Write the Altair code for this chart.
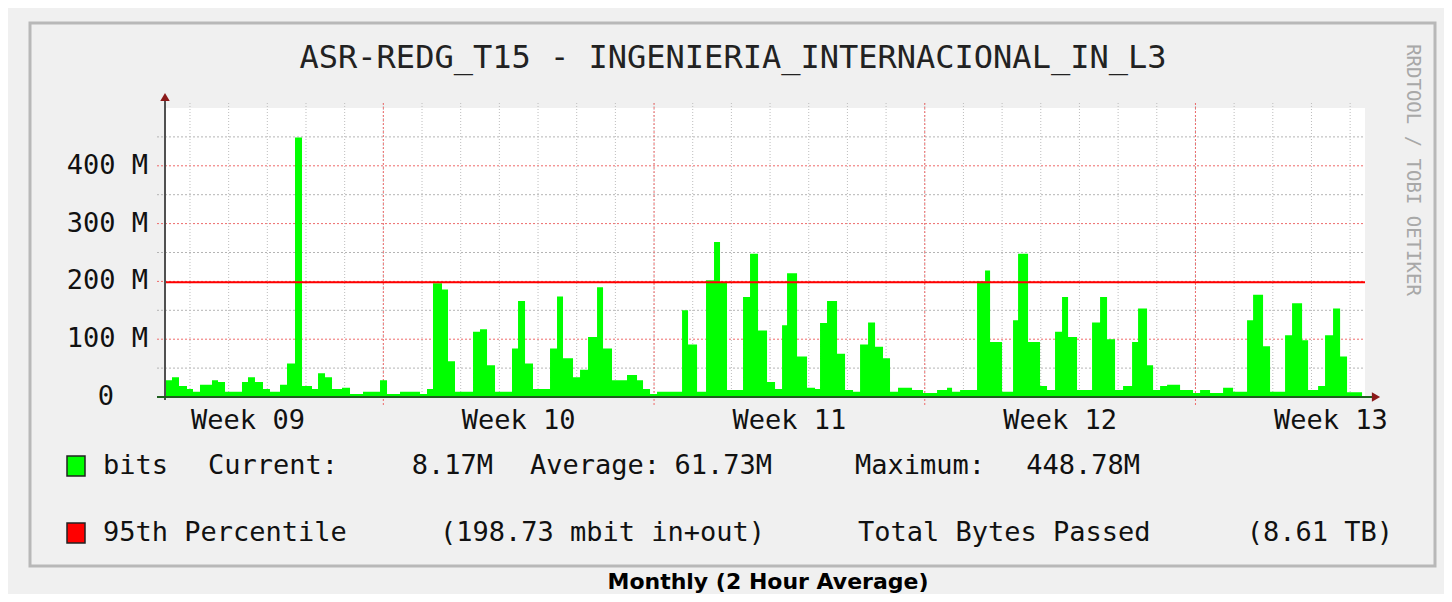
import altair as alt
import pandas as pd

# ---- data (time in days from left edge, traffic in Mbit/s) ----
bits_day = [0.000, 0.181, 0.362, 0.569, 0.724, 0.905, 1.215, 1.371, 1.552, 1.991,
            2.146, 2.327, 2.534, 2.715, 2.974, 3.155, 3.362, 3.543, 3.801, 3.957,
            4.138, 4.319, 4.577, 4.784, 5.120, 5.560, 5.741, 6.077, 6.594, 6.775,
            6.930, 7.163, 7.318, 7.499, 7.965, 8.146, 8.327, 8.534, 8.973, 9.129,
            9.310, 9.516, 9.956, 10.137, 10.292, 10.551, 10.732, 10.939, 11.172, 11.327,
            11.559, 11.947, 12.206, 12.361, 12.542, 12.723, 13.370, 13.525, 13.758, 13.990,
            14.197, 14.352, 14.533, 14.947, 15.128, 15.335, 15.568, 15.775, 15.956, 16.085,
            16.344, 16.602, 16.809, 16.938, 17.119, 17.378, 17.585, 17.792, 17.973, 18.180,
            18.361, 18.567, 18.748, 18.955, 19.317, 19.602, 19.964, 20.222, 20.352, 20.559,
            20.998, 21.205, 21.335, 21.645, 21.929, 22.059, 22.317, 22.627, 22.808, 23.015,
            23.196, 23.352, 23.584, 23.972, 24.179, 24.360, 24.567, 24.774, 25.007, 25.162,
            25.394, 25.550, 25.731, 25.912, 26.248, 26.584, 26.765, 27.023, 27.360, 27.618,
            27.980, 28.136, 28.394, 28.575, 28.963, 29.144, 29.403, 29.558, 29.817, 29.997,
            30.204, 30.386, 30.566, 30.954]
bits_mbit = [29, 34, 19, 14, 9, 21, 29, 26, 9, 26,
             34, 26, 14, 9, 21, 58, 448.78, 19, 14, 41,
             34, 14, 16, 5, 9, 29, 5, 9, 5, 14,
             197, 186, 62, 9, 113, 117, 55, 9, 84, 166,
             58, 14, 84, 174, 67, 34, 47, 104, 190, 84,
             29, 38, 29, 14, 5, 9, 150, 91, 9, 202,
             268, 199, 12, 173, 248, 115, 26, 14, 124, 214,
             70, 16, 14, 128, 166, 75, 12, 9, 91, 129,
             87, 67, 9, 16, 12, 7, 12, 16, 9, 12,
             200, 219, 95, 9, 133, 248, 95, 19, 12, 113,
             173, 104, 12, 129, 173, 100, 12, 19, 95, 153,
             55, 12, 19, 21, 12, 7, 12, 7, 16, 9,
             133, 177, 88, 9, 107, 162, 98, 12, 19, 107,
             153, 70, 8.17, 8.17]
pct95_mbit = [198.73]

y_tick_mbit = [100, 200, 300, 400]
y_tick_labels = ["100 M", "200 M", "300 M", "400 M"]
y_zero = [0]
grid_minor_mbit = [50, 150, 250, 350, 450]
grid_major_mbit = [100, 200, 300, 400]
day_lines = [0.646 + k for k in range(31)]
week_lines = [5.646, 12.646, 19.646, 26.646]
week_label_day = [2.146, 9.146, 16.146, 23.146, 30.146]
week_labels = ["Week 09", "Week 10", "Week 11", "Week 12", "Week 13"]

title_text = "ASR-REDG_T15 - INGENIERIA_INTERNACIONAL_IN_L3"
side_text = "RRDTOOL / TOBI OETIKER"
caption_text = "Monthly (2 Hour Average)"
legend_row1 = [("bits", "left"), ("Current:", "left"), ("8.17M", "right"),
               ("Average:", "left"), ("61.73M", "right"), ("Maximum:", "left"), ("448.78M", "right")]
legend_row2 = [("95th Percentile", "left"), ("(198.73 mbit in+out)", "left"),
               ("Total Bytes Passed", "left"), ("(8.61 TB)", "right")]

# ---- layout (pixels relative to plot origin) ----
W, H = 1200, 289
row1_x = [-62, 43, 328, 365, 607, 690, 975]
row2_x = [-62, 275, 693, 1228]
ROW1_Y, ROW2_Y = 358, 425
MONO = "DejaVu Sans Mono"
FS = 27

X = alt.Scale(domain=[0, 31.03], nice=False, zero=False)
Y = alt.Scale(domain=[0, 500], nice=False)

one = pd.DataFrame({"a": [0]})
traffic = pd.DataFrame({"t": bits_day, "v": bits_mbit})


def txt(s, x, y, **kw):
    return alt.Chart(one).mark_text(text=s, **kw).encode(x=alt.value(x), y=alt.value(y))


layers = []

# frame
layers.append(alt.Chart(one).mark_rect(fillOpacity=0, stroke="#b8b8b8", strokeWidth=3).encode(
    x=alt.value(-135), x2=alt.value(1270), y=alt.value(-85), y2=alt.value(458)))

# grids
layers.append(alt.Chart(pd.DataFrame({"g": grid_minor_mbit})).mark_rule(
    color="#b4b4b4", strokeDash=[2, 2], strokeWidth=1).encode(
    y=alt.Y("g:Q", scale=Y, axis=None), x=alt.value(-8), x2=alt.value(W)))
layers.append(alt.Chart(pd.DataFrame({"g": grid_major_mbit})).mark_rule(
    color="#ee6a6a", strokeDash=[2, 2], strokeWidth=1).encode(
    y=alt.Y("g:Q", scale=Y, axis=None), x=alt.value(-8), x2=alt.value(W)))
layers.append(alt.Chart(pd.DataFrame({"d": day_lines})).mark_rule(
    color="#bdbdbd", strokeDash=[1, 2], strokeWidth=1).encode(
    x=alt.X("d:Q", scale=X, axis=None), y=alt.value(-5), y2=alt.value(H)))
layers.append(alt.Chart(pd.DataFrame({"d": week_lines})).mark_rule(
    color="#ee6a6a", strokeDash=[2, 2], strokeWidth=1).encode(
    x=alt.X("d:Q", scale=X, axis=None), y=alt.value(-5), y2=alt.value(H + 8)))

# traffic area
layers.append(alt.Chart(traffic).mark_area(interpolate="step-after", color="#00ff00", opacity=1).encode(
    x=alt.X("t:Q", scale=X, axis=None),
    y=alt.Y("v:Q", scale=Y, axis=None)))

# 95th percentile
layers.append(alt.Chart(pd.DataFrame({"p": pct95_mbit})).mark_rule(color="#ff0000", strokeWidth=2).encode(
    y=alt.Y("p:Q", scale=Y, axis=None)))

# axis lines and arrows
layers.append(alt.Chart(one).mark_rule(color="#505050", strokeWidth=2).encode(
    x=alt.value(0), y=alt.value(-8), y2=alt.value(H + 3)))
layers.append(alt.Chart(one).mark_rule(color="#1f5f1f", strokeWidth=2).encode(
    x=alt.value(-8), x2=alt.value(W + 8), y=alt.value(H)))
layers.append(alt.Chart(one).mark_point(shape="triangle-up", filled=True, size=90, color="#8b1a1a", opacity=1).encode(
    x=alt.value(0), y=alt.value(-11)))
layers.append(alt.Chart(one).mark_point(shape="triangle-right", filled=True, size=90, color="#8b1a1a", opacity=1).encode(
    x=alt.value(W + 11), y=alt.value(H)))

# y labels
layers.append(alt.Chart(pd.DataFrame({"v": y_tick_mbit, "lab": y_tick_labels})).mark_text(
    font=MONO, fontSize=FS, color="#111", baseline="middle", align="right").encode(
    y=alt.Y("v:Q", scale=Y, axis=None), x=alt.value(-17), text="lab:N"))
layers.append(alt.Chart(pd.DataFrame({"v": y_zero, "lab": ["0"]})).mark_text(
    font=MONO, fontSize=FS, color="#111", baseline="middle", align="right").encode(
    y=alt.Y("v:Q", scale=Y, axis=None), x=alt.value(-51), text="lab:N"))

# week labels
layers.append(alt.Chart(pd.DataFrame({"d": week_label_day, "lab": week_labels})).mark_text(
    font=MONO, fontSize=FS, color="#111", baseline="middle", align="center").encode(
    x=alt.X("d:Q", scale=X, axis=None), y=alt.value(H + 24), text="lab:N"))

# title, side text, caption
layers.append(txt(title_text, 568, -50, font=MONO, fontSize=32, color="#222", align="center", baseline="middle"))
layers.append(txt(side_text, 1248, 62, font=MONO, fontSize=19, color="#a8a8a8", align="center",
                  baseline="middle", angle=90))
layers.append(txt(caption_text, 603, 474, font="DejaVu Sans", fontWeight="bold", fontSize=22,
                  color="#000", align="center", baseline="middle"))

# legend swatches
layers.append(alt.Chart(one).mark_rect(color="#00ff00", stroke="#222", strokeWidth=1.5).encode(
    x=alt.value(-98), x2=alt.value(-80), y=alt.value(ROW1_Y - 10), y2=alt.value(ROW1_Y + 10)))
layers.append(alt.Chart(one).mark_rect(color="#ff0000", stroke="#222", strokeWidth=1.5).encode(
    x=alt.value(-98), x2=alt.value(-80), y=alt.value(ROW2_Y - 10), y2=alt.value(ROW2_Y + 10)))

for (s, al), xx in zip(legend_row1, row1_x):
    layers.append(txt(s, xx, ROW1_Y, font=MONO, fontSize=FS, color="#111", align=al, baseline="middle"))
for (s, al), xx in zip(legend_row2, row2_x):
    layers.append(txt(s, xx, ROW2_Y, font=MONO, fontSize=FS, color="#111", align=al, baseline="middle"))

chart = alt.layer(*layers).properties(
    width=W, height=H,
    padding={"left": 157, "top": 100, "right": 79, "bottom": 197},
    autosize=alt.AutoSizeParams(type="none"),
    background="#f0f0f0",
).configure_view(fill="white", stroke=None)

chart.save("out.html", embed_options={"renderer": "svg", "actions": False})
